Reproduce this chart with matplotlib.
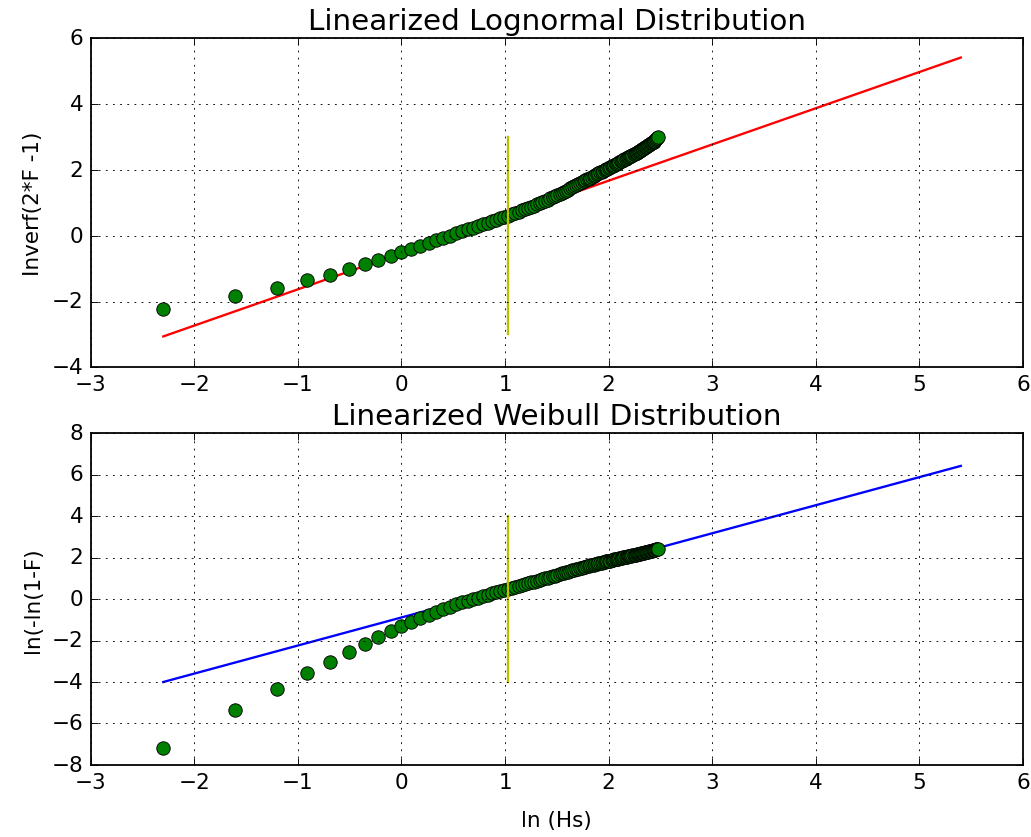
import math
import numpy as np
import matplotlib
matplotlib.use("Agg")
import matplotlib.pyplot as plt

# significant wave height bins (m)
hs = [0.1, 0.2, 0.3, 0.4, 0.5, 0.6, 0.7, 0.8, 0.9, 1.0,
      1.1, 1.2, 1.3, 1.4, 1.5, 1.6, 1.7, 1.8, 1.9, 2.0,
      2.1, 2.2, 2.3, 2.4, 2.5, 2.6, 2.7, 2.8, 2.9, 3.0,
      3.1, 3.2, 3.3, 3.4, 3.5, 3.6, 3.7, 3.8, 3.9, 4.0,
      4.1, 4.2, 4.3, 4.4, 4.5, 4.6, 4.7, 4.8, 4.9, 5.0,
      5.1, 5.2, 5.3, 5.4, 5.5, 5.6, 5.7, 5.8, 5.9, 6.0,
      6.1, 6.2, 6.3, 6.4, 6.5, 6.6, 6.7, 6.8, 6.9, 7.0,
      7.1, 7.2, 7.3, 7.4, 7.5, 7.6, 7.7, 7.8, 7.9, 8.0,
      8.1, 8.2, 8.3, 8.4, 8.5, 8.6, 8.7, 8.8, 8.9, 9.0,
      9.1, 9.2, 9.3, 9.4, 9.5, 9.6, 9.7, 9.8, 9.9, 10.0,
      10.1, 10.2, 10.3, 10.4, 10.5, 10.6, 10.7, 10.8, 10.9, 11.0,
      11.1, 11.2, 11.3, 11.4, 11.5, 11.6, 11.7, 11.8, 11.9]

# inverf(2F-1) of the empirical cdf at each bin
inverf_f = [-2.24, -1.84, -1.58, -1.36, -1.18, -1.01, -0.87, -0.74, -0.61, -0.50,
            -0.40, -0.31, -0.22, -0.14, -0.07, 0.00, 0.07, 0.13, 0.19, 0.24,
            0.29, 0.34, 0.39, 0.44, 0.49, 0.53, 0.57, 0.61, 0.65, 0.69,
            0.73, 0.77, 0.80, 0.84, 0.88, 0.91, 0.95, 0.99, 1.02, 1.06,
            1.09, 1.13, 1.17, 1.20, 1.24, 1.27, 1.31, 1.34, 1.37, 1.40,
            1.44, 1.47, 1.50, 1.53, 1.56, 1.59, 1.62, 1.65, 1.68, 1.71,
            1.73, 1.76, 1.79, 1.81, 1.84, 1.87, 1.89, 1.92, 1.94, 1.97,
            1.99, 2.02, 2.04, 2.06, 2.08, 2.11, 2.13, 2.15, 2.17, 2.19,
            2.21, 2.24, 2.26, 2.28, 2.30, 2.32, 2.34, 2.36, 2.38, 2.40,
            2.41, 2.43, 2.45, 2.47, 2.49, 2.51, 2.52, 2.54, 2.56, 2.58,
            2.60, 2.62, 2.64, 2.66, 2.68, 2.70, 2.72, 2.74, 2.76, 2.78,
            2.80, 2.82, 2.84, 2.86, 2.88, 2.91, 2.93, 2.96, 3.00]

# fitted lines (end points)
fit_x = [-2.30, 5.40]
lognorm_fit = [-3.06, 5.41]
weibull_fit = [-4.00, 6.42]

# marker for ln(mean Hs)
ln_hs_mark = 1.03
lognorm_mark = [-3.0, 3.0]
weibull_mark = [-4.0, 4.0]

x = np.log(hs)
y_logn = np.array(inverf_f)
# 1-F = erfc(y)/2  ->  ln(-ln(1-F))
exceed = np.array([0.5 * math.erfc(v) for v in inverf_f])
y_weib = np.log(-np.log(exceed))

plt.style.use("classic")
fig = plt.figure(figsize=(8, 6.5), dpi=128.9, facecolor="white")

ax1 = fig.add_axes([0.088, 0.5605, 0.904, 0.393])
ax1.plot(fit_x, lognorm_fit, "r-", lw=1.3)
ax1.plot(x, y_logn, "go", markersize=7.5)
ax1.plot([ln_hs_mark, ln_hs_mark], lognorm_mark, "y-", lw=1.3)
ax1.set_xlim(-3, 6)
ax1.set_ylim(-4, 6)
ax1.set_title("Linearized Lognormal Distribution", fontsize=16.5)
ax1.set_ylabel("Inverf(2*F -1)")
ax1.grid(True)

ax2 = fig.add_axes([0.088, 0.086, 0.904, 0.396])
ax2.plot(fit_x, weibull_fit, "b-", lw=1.3)
ax2.plot(x, y_weib, "go", markersize=7.5)
ax2.plot([ln_hs_mark, ln_hs_mark], weibull_mark, "y-", lw=1.3)
ax2.set_xlim(-3, 6)
ax2.set_ylim(-8, 8)
ax2.set_title("Linearized Weibull Distribution", fontsize=16.5)
ax2.set_ylabel("ln(-ln(1-F)")
ax2.set_xlabel("ln (Hs)", labelpad=10)
ax2.grid(True)

fig.savefig("out.png", dpi=128.9, facecolor="white")
